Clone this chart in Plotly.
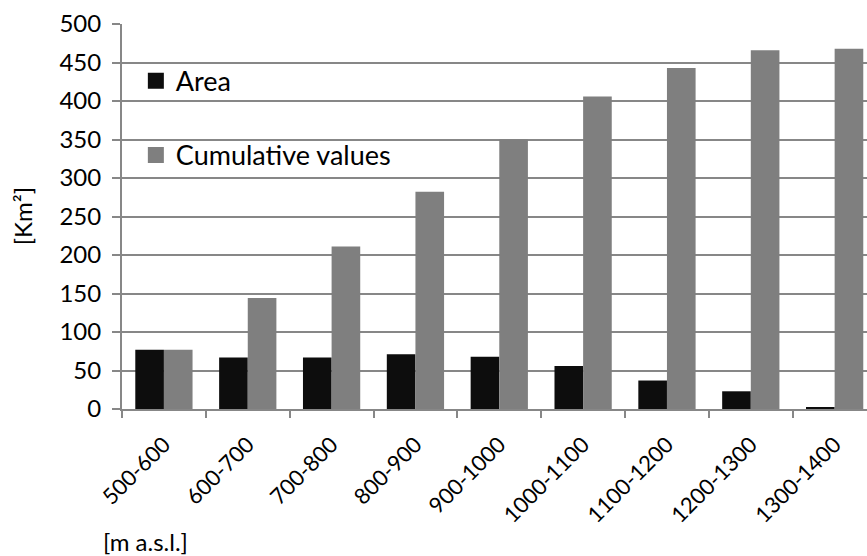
import plotly.graph_objects as go

# Elevation bands (m a.s.l.)
bands = ["500-600", "600-700", "700-800", "800-900", "900-1000",
         "1000-1100", "1100-1200", "1200-1300", "1300-1400"]
# Area per band and running total (km²)
area = [77, 67, 67, 71, 68, 56, 37, 23, 2]
cumulative = [77, 144, 211, 282, 350, 406, 443, 466, 468]
y_ticks = [0, 50, 100, 150, 200, 250, 300, 350, 400, 450, 500]

FONT = "Lato"
GRID = "#878787"
BLACK = "#0d0d0d"
GREY = "#7f7f7f"

fig = go.Figure()
fig.add_trace(go.Bar(x=bands, y=area, marker=dict(color=BLACK, line_width=0),
                     showlegend=False, name="Area"))
fig.add_trace(go.Bar(x=bands, y=cumulative, marker=dict(color=GREY, line_width=0),
                     showlegend=False, name="Cumulative values"))

# legend entries with larger square swatches
fig.add_trace(go.Scatter(x=[None], y=[None], mode="markers", name="Area",
                         legendgroup="a",
                         marker=dict(symbol="square", size=16, color=BLACK)))
fig.add_trace(go.Scatter(x=[None], y=[None], mode="markers", name="Cumulative values",
                         legendgroup="c",
                         marker=dict(symbol="square", size=16, color=GREY)))

fig.update_layout(
    width=867, height=556,
    margin=dict(l=122, r=0, t=24, b=147),
    paper_bgcolor="white", plot_bgcolor="white",
    barmode="group", bargap=0.317, bargroupgap=0,
    font=dict(family=FONT, size=24, color="#000000"),
    legend=dict(x=0.0186, y=0.915, xanchor="left", yanchor="top",
                bgcolor="rgba(0,0,0,0)", tracegroupgap=36,
                font=dict(family=FONT, size=27, color="#000000")),
    xaxis=dict(
        type="category", range=[-0.5, 8.386],
        showline=True, linecolor=GRID, linewidth=2,
        ticks="outside", tickson="boundaries", ticklen=7, tickwidth=1.5,
        tickcolor=GRID, tickangle=-45, ticklabelstandoff=12,
        tickfont=dict(family=FONT, size=22, color="#000000"),
        showgrid=False,
    ),
    yaxis=dict(
        range=[0, 500], tickvals=y_ticks,
        showline=True, linecolor=GRID, linewidth=2,
        ticks="outside", ticklen=8, tickwidth=2, tickcolor=GRID,
        ticklabelstandoff=6,
        showgrid=True, gridcolor=GRID, gridwidth=2,
        zeroline=False,
        tickfont=dict(family=FONT, size=24, color="#000000"),
    ),
    annotations=[
        dict(text="[Km²]", textangle=-90, x=-0.134, y=0.501,
             xref="paper", yref="paper", xanchor="center", yanchor="middle",
             showarrow=False, font=dict(family=FONT, size=24)),
        dict(text="[m a.s.l.]", x=0.031, y=-0.343,
             xref="paper", yref="paper", xanchor="center", yanchor="middle",
             showarrow=False, font=dict(family=FONT, size=24)),
    ],
)

fig.write_html("out.html")
